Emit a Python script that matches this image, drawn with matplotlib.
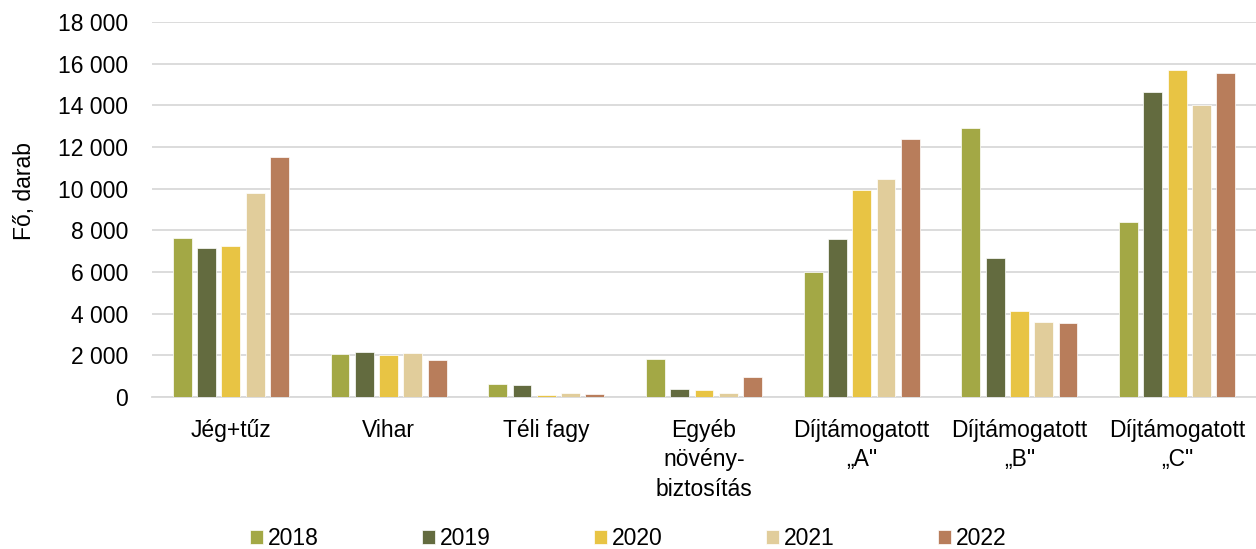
import numpy as np
import matplotlib.pyplot as plt

plt.rcParams['font.family'] = ['Liberation Sans', 'DejaVu Sans']

categories = ['Jég+tűz', 'Vihar', 'Téli fagy', 'Egyéb\nnövény-\nbiztosítás',
              'Díjtámogatott\n„A"', 'Díjtámogatott\n„B"', 'Díjtámogatott\n„C"']
years = ['2018', '2019', '2020', '2021', '2022']
v2018 = [7630, 2080, 620, 1810, 6000, 12930, 8400]
v2019 = [7150, 2140, 590, 400, 7600, 6680, 14660]
v2020 = [7260, 2000, 110, 350, 9950, 4130, 15700]
v2021 = [9780, 2110, 190, 210, 10480, 3600, 14000]
v2022 = [11520, 1750, 160, 940, 12400, 3560, 15530]
colors = ['#A3A845', '#636B3F', '#E8C444', '#E1CD9B', '#B87D5B']

series = [v2018, v2019, v2020, v2021, v2022]
fs = 16.5

fig = plt.figure(figsize=(12.56, 5.49), dpi=100)
ax = fig.add_axes([0.121, 0.277, 0.879, 0.683])

x = np.arange(len(categories))
w = 0.12
step = 0.154
for i, (vals, col, yr) in enumerate(zip(series, colors, years)):
    ax.bar(x + (i - 2) * step, vals, width=w, color=col, label=yr,
           edgecolor='white', linewidth=0.5, zorder=3)

ax.set_ylim(0, 18000)
ax.set_xlim(-0.5, len(categories) - 0.5)
ax.set_yticks(range(0, 18001, 2000))
ax.set_yticklabels([f'{v:,}'.replace(',', ' ') for v in range(0, 18001, 2000)])
ax.set_xticks(x)
ax.set_xticklabels(categories, linespacing=1.35)
ax.tick_params(axis='both', length=0, labelsize=fs)
ax.tick_params(axis='y', pad=17)
ax.tick_params(axis='x', pad=16)
ax.yaxis.grid(True, color='#D9D9D9', linewidth=1.3, zorder=0)
for s in ['top', 'right', 'left']:
    ax.spines[s].set_visible(False)
ax.spines['bottom'].set_color('#D9D9D9')
ax.spines['bottom'].set_linewidth(1.3)
ax.set_ylabel('Fő, darab', fontsize=fs)
ax.yaxis.set_label_coords(-0.105, 0.55)

fig.legend(loc='center', bbox_to_anchor=(0.5, 0.019), ncol=5, frameon=False,
           fontsize=fs, handlelength=0.57, handleheight=0.57, handletextpad=0.22,
           columnspacing=4.5)

plt.savefig('out.png', dpi=100)
